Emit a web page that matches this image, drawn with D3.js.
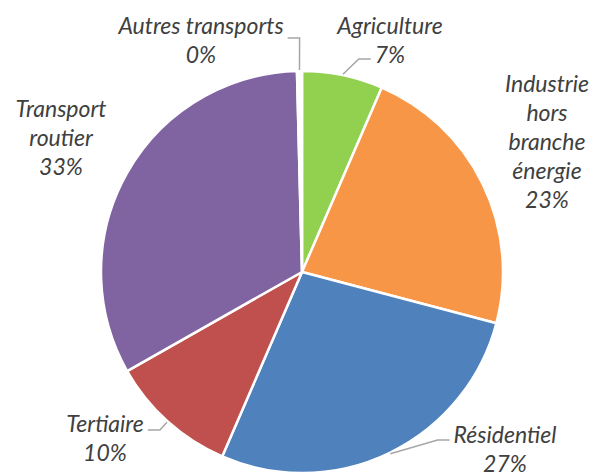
<!DOCTYPE html>
<html>
<head>
<meta charset="utf-8">
<script src="https://cdn.jsdelivr.net/npm/d3@7"></script>
<style>
  html, body { margin: 0; padding: 0; background: #fff; }
  svg { display: block; }
  .lbl { font-family: Lato, "Open Sans", sans-serif; font-style: italic; fill: #404040; }
</style>
</head>
<body>
<svg id="chart" width="590" height="472"></svg>
<script>
// ---- data ----
const categories = ["Agriculture", "Industrie hors branche énergie", "Résidentiel", "Tertiaire", "Transport routier", "Autres transports"];
const values = [6.5, 22.6, 27.4, 10.3, 32.8, 0.4];
const colors = ["#92D050", "#F79646", "#4F81BD", "#C0504D", "#8064A2", "#FFFFFF"];

// ---- layout ----
const W = 590, H = 472;
const cx = 302, cy = 272, R = 201;
const fontSize = 23, lineH = 29;
// label placement relative to the pie centre (x of text centre, first baseline)
const placement = {
  "Agriculture": { dx: 88, dy: -238, wrap: false, leader: { line: 1, side: "left", dy: -4 } },
  "Industrie hors branche énergie": { dx: 245, dy: -180, wrap: true },
  "Résidentiel": { dx: 203, dy: 171, wrap: false, leader: { line: 0, side: "left", dy: -3 } },
  "Tertiaire": { dx: -197, dy: 160, wrap: false, leader: { line: 0, side: "right", dy: -2 } },
  "Transport routier": { dx: -241, dy: -155, wrap: true },
  "Autres transports": { dx: -101, dy: -238, wrap: false, leader: { line: 0, side: "right", dy: 4 } }
};

const svg = d3.select("#chart");
const total = d3.sum(values);
const data = categories.map((c, i) => ({ name: c, value: values[i], color: colors[i] }));

const pie = d3.pie().sort(null).value(d => d.value).startAngle(0).endAngle(2 * Math.PI);
const arc = d3.arc().innerRadius(0).outerRadius(R);
const arcs = pie(data);

const g = svg.append("g").attr("transform", `translate(${cx},${cy})`);

g.selectAll("path.slice")
  .data(arcs)
  .join("path")
  .attr("class", "slice")
  .attr("d", arc)
  .attr("fill", d => d.data.color)
  .attr("stroke", "#fff")
  .attr("stroke-width", 2.5)
  .attr("stroke-linejoin", "round");

// labels
arcs.forEach(a => {
  const p = placement[a.data.name];
  const pct = Math.round(a.data.value / total * 100) + "%";
  const lines = (p.wrap ? a.data.name.split(" ") : [a.data.name]).concat([pct]);
  const t = g.append("text")
    .attr("class", "lbl")
    .attr("text-anchor", "middle")
    .attr("font-size", fontSize);
  const spans = lines.map((ln, i) =>
    t.append("tspan").attr("x", p.dx).attr("y", p.dy + i * lineH).text(ln)
  );

  if (p.leader) {
    const L = p.leader;
    const w = spans[L.line].node().getComputedTextLength();
    const ly = p.dy + L.line * lineH + L.dy;
    const sign = L.side === "left" ? -1 : 1;
    const endX = p.dx + sign * (w / 2 + 4);
    const elbowX = endX + sign * 12;
    const mid = (a.startAngle + a.endAngle) / 2;
    const sx = Math.sin(mid) * (R + 1);
    const sy = -Math.cos(mid) * (R + 1);
    g.append("polyline")
      .attr("points", `${sx},${sy} ${elbowX},${ly} ${endX},${ly}`)
      .attr("fill", "none")
      .attr("stroke", "#A6A6A6")
      .attr("stroke-width", 1.5);
  }
});
</script>
</body>
</html>
